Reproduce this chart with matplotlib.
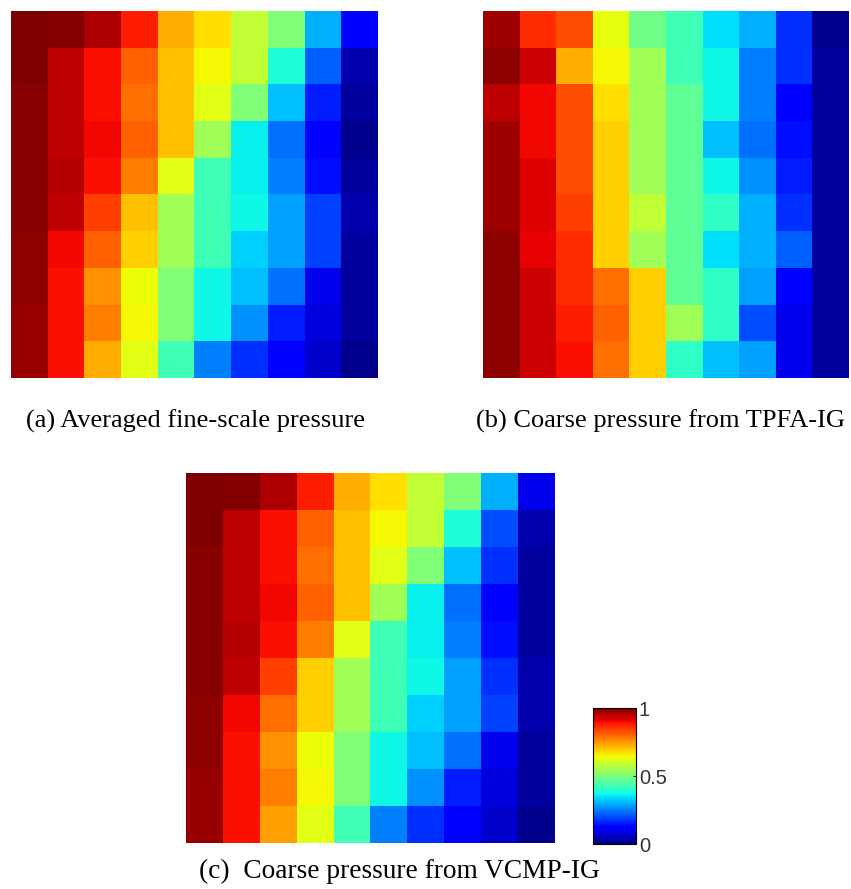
import numpy as np
import matplotlib
matplotlib.use("Agg")
import matplotlib.pyplot as plt

# pressure values (rows top to bottom, columns left to right)
fine_avg = [
    [1.000, 0.993, 0.958, 0.876, 0.724, 0.673, 0.583, 0.505, 0.297, 0.120],
    [1.000, 0.945, 0.893, 0.808, 0.707, 0.645, 0.583, 0.389, 0.219, 0.042],
    [0.990, 0.945, 0.893, 0.790, 0.707, 0.623, 0.505, 0.313, 0.156, 0.028],
    [0.990, 0.945, 0.900, 0.808, 0.707, 0.545, 0.360, 0.235, 0.120, 0.014],
    [0.990, 0.950, 0.893, 0.775, 0.623, 0.428, 0.360, 0.250, 0.140, 0.028],
    [0.990, 0.945, 0.842, 0.707, 0.545, 0.428, 0.370, 0.282, 0.188, 0.042],
    [0.986, 0.900, 0.808, 0.690, 0.545, 0.428, 0.330, 0.282, 0.188, 0.028],
    [0.986, 0.893, 0.757, 0.640, 0.505, 0.370, 0.313, 0.235, 0.097, 0.028],
    [0.980, 0.893, 0.775, 0.645, 0.505, 0.370, 0.266, 0.156, 0.083, 0.028],
    [0.980, 0.893, 0.724, 0.623, 0.428, 0.250, 0.172, 0.120, 0.070, 0.014],
]

tpfa = [
    [0.972, 0.860, 0.825, 0.630, 0.485, 0.428, 0.345, 0.297, 0.172, 0.014],
    [0.986, 0.930, 0.724, 0.645, 0.545, 0.428, 0.370, 0.250, 0.172, 0.028],
    [0.945, 0.900, 0.825, 0.673, 0.545, 0.467, 0.370, 0.250, 0.120, 0.028],
    [0.972, 0.900, 0.825, 0.690, 0.545, 0.467, 0.313, 0.235, 0.140, 0.028],
    [0.972, 0.916, 0.825, 0.690, 0.545, 0.467, 0.370, 0.266, 0.156, 0.028],
    [0.972, 0.916, 0.842, 0.690, 0.583, 0.467, 0.410, 0.297, 0.172, 0.028],
    [0.986, 0.910, 0.860, 0.690, 0.545, 0.467, 0.345, 0.297, 0.219, 0.028],
    [0.986, 0.930, 0.860, 0.790, 0.690, 0.467, 0.410, 0.282, 0.120, 0.028],
    [0.986, 0.930, 0.876, 0.808, 0.690, 0.545, 0.410, 0.203, 0.097, 0.028],
    [0.986, 0.930, 0.893, 0.790, 0.690, 0.410, 0.313, 0.282, 0.097, 0.028],
]

vcmp = [
    [1.000, 0.993, 0.958, 0.876, 0.724, 0.673, 0.583, 0.505, 0.297, 0.097],
    [1.000, 0.945, 0.893, 0.808, 0.707, 0.645, 0.583, 0.389, 0.203, 0.042],
    [0.990, 0.945, 0.893, 0.790, 0.707, 0.623, 0.505, 0.313, 0.172, 0.028],
    [0.990, 0.945, 0.900, 0.808, 0.707, 0.545, 0.360, 0.235, 0.120, 0.028],
    [0.990, 0.950, 0.893, 0.775, 0.623, 0.428, 0.360, 0.250, 0.140, 0.028],
    [0.990, 0.945, 0.842, 0.690, 0.545, 0.428, 0.370, 0.282, 0.172, 0.042],
    [0.986, 0.900, 0.790, 0.690, 0.545, 0.428, 0.330, 0.282, 0.188, 0.042],
    [0.986, 0.893, 0.757, 0.640, 0.505, 0.370, 0.313, 0.235, 0.097, 0.028],
    [0.980, 0.893, 0.775, 0.645, 0.505, 0.370, 0.266, 0.156, 0.083, 0.028],
    [0.980, 0.893, 0.740, 0.623, 0.428, 0.250, 0.172, 0.120, 0.070, 0.014],
]

captions = ["(a) Averaged fine-scale pressure",
            "(b) Coarse pressure from TPFA-IG",
            "(c)  Coarse pressure from VCMP-IG"]
cbar_ticks = [0, 0.5, 1]
cbar_labels = ["0", "0.5", "1"]

W, H = 851, 889
fig = plt.figure(figsize=(W / 100, H / 100), dpi=100)


def box(x0, y0, x1, y1):
    # pixel box (top-left origin) -> figure fraction rect
    return [x0 / W, 1 - y1 / H, (x1 - x0) / W, (y1 - y0) / H]


def panel(rect, data):
    ax = fig.add_axes(rect)
    im = ax.imshow(np.array(data), cmap="jet", vmin=0, vmax=1,
                   interpolation="nearest", aspect="auto")
    ax.set_axis_off()
    return im


panel(box(11, 11, 378, 378), fine_avg)
panel(box(483, 11, 849, 378), tpfa)
im = panel(box(186, 473, 555, 843), vcmp)

cax = fig.add_axes(box(593, 708, 636, 844))
cb = fig.colorbar(im, cax=cax, ticks=cbar_ticks)
cb.ax.set_yticklabels(cbar_labels)
cb.ax.tick_params(length=2, width=0.6, direction="in", labelsize=14.5, pad=2,
                  labelcolor="#333333")
for t in cb.ax.get_yticklabels():
    t.set_fontfamily("Liberation Sans")
cb.outline.set_linewidth(0.8)

cap_font = dict(family="Liberation Serif", ha="center", va="center")
fig.text(195 / W, 1 - 421 / H, captions[0], fontsize=19, **cap_font)
fig.text(660 / W, 1 - 421 / H, captions[1], fontsize=19, **cap_font)
fig.text(399 / W, 1 - 871 / H, captions[2], fontsize=19.7, **cap_font)

fig.savefig("out.png", dpi=100)
